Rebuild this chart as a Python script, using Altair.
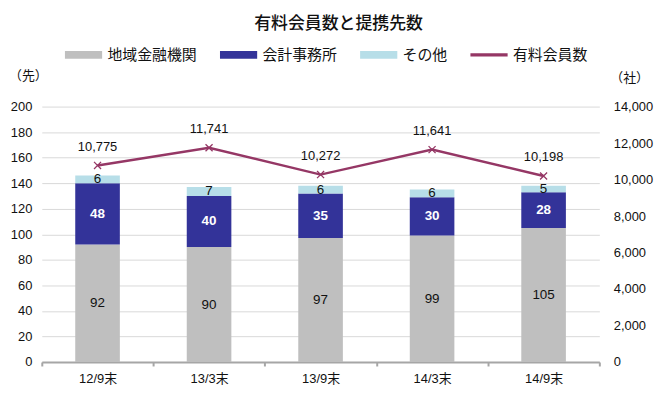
import altair as alt
import pandas as pd

categories = ["12/9末", "13/3末", "13/9末", "14/3末", "14/9末"]
banks = [92, 90, 97, 99, 105]
accountants = [48, 40, 35, 30, 28]
others = [6, 7, 6, 6, 5]
members = [10775, 11741, 10272, 11641, 10198]

series_names = ["地域金融機関", "会計事務所", "その他", "有料会員数"]
series_colors = ["#BFBFBF", "#333399", "#B7DEE8", "#953765"]
text_colors = ["#111111", "#FFFFFF", "#111111"]

rows = []
for i, c in enumerate(categories):
    for k, vals in enumerate([banks, accountants, others]):
        rows.append({"cat": c, "series": series_names[k], "value": vals[i],
                     "ord": k, "fill": series_colors[k], "tcol": text_colors[k]})
bars_df = pd.DataFrame(rows)
line_df = pd.DataFrame({"cat": categories, "members": members})
legend_df = pd.DataFrame({"series": series_names})

JP = "Liberation Sans, Noto Sans CJK JP"

x_enc = alt.X("cat:N", sort=categories, title=None,
              scale=alt.Scale(paddingInner=0, paddingOuter=0),
              axis=alt.Axis(labelAngle=0, labelFont=JP, labelFontSize=13, labelColor="#111",
                            labelPadding=7, domainColor="#A6A6A6", domainWidth=2,
                            tickBand="extent", ticks=True, tickColor="#A6A6A6", tickSize=4,
                            tickWidth=2, grid=False))

left_axis = alt.Axis(values=list(range(0, 201, 20)), domain=False, ticks=False,
                     labelOverlap=False, tickCount=11,
                     labelPadding=10, labelFont=JP, labelFontSize=13, labelColor="#111",
                     gridColor="#D9D9D9", titleAngle=0, titleAlign="center",
                     titleBaseline="middle", titleX=-14, titleY=-31,
                     titleFont=JP, titleFontSize=13, titleFontWeight="normal",
                     titleColor="#111")
left_scale = alt.Scale(domain=[0, 200], nice=False)

stacked = alt.Chart(bars_df).transform_stack(
    stack="value", as_=["v0", "v1"], groupby=["cat"], sort=[alt.SortField("ord")]
).transform_calculate(mid="(datum.v0 + datum.v1) / 2")

bars = stacked.mark_bar(width=alt.RelativeBandSize(0.4)).encode(
    x=x_enc, y=alt.Y("v1:Q", title="（先）", scale=left_scale, axis=left_axis), y2="v0:Q",
    color=alt.Color("fill:N", scale=None),
)

bar_text = stacked.transform_filter("datum.ord != 1").mark_text(
    font=JP, fontSize=13.5, baseline="middle").encode(
    x=alt.X("cat:N", sort=categories),
    y=alt.Y("mid:Q", title="（先）", scale=left_scale, axis=left_axis),
    text="value:Q", color=alt.Color("tcol:N", scale=None))

bar_text_b = stacked.transform_filter("datum.ord == 1").mark_text(
    font=JP, fontSize=13.5, fontWeight="bold", baseline="middle").encode(
    x=alt.X("cat:N", sort=categories),
    y=alt.Y("mid:Q", title="（先）", scale=left_scale, axis=left_axis),
    text="value:Q", color=alt.Color("tcol:N", scale=None))

legend = alt.Legend(title=None, orient="none", legendX=23, legendY=-71, direction="horizontal",
                    symbolOpacity=1, symbolSize=1400, symbolStrokeWidth=0,
                    labelFont="Noto Sans CJK JP", labelFontSize=15, labelColor="#111",
                    labelOffset=5, columnPadding=22)
legend_layer = alt.Chart(legend_df).mark_point(opacity=0, filled=True).encode(
    color=alt.Color("series:N", sort=series_names,
                    scale=alt.Scale(domain=series_names, range=series_colors), legend=legend),
    shape=alt.Shape("series:N", sort=series_names,
                    scale=alt.Scale(domain=series_names,
                                    range=["M-1,-0.21H1V0.21H-1Z", "M-1,-0.21H1V0.21H-1Z",
                                           "M-1,-0.21H1V0.21H-1Z", "M-1,-0.09H1V0.09H-1Z"]),
                    legend=legend),
)

left = alt.layer(bars, bar_text, bar_text_b, legend_layer)

y_right = alt.Y("members:Q", title="（社）",
                scale=alt.Scale(domain=[0, 14000], nice=False),
                axis=alt.Axis(orient="right", values=list(range(0, 14001, 2000)),
                              labelExpr="format(datum.value, ',')", labelOverlap=False,
                              domain=False, ticks=False, grid=False, labelPadding=14,
                              labelFont=JP, labelFontSize=13, labelColor="#111",
                              titleAngle=0, titleAlign="center", titleBaseline="middle",
                              titleX=30, titleY=-29, titleFont=JP, titleFontSize=13,
                              titleFontWeight="normal", titleColor="#111"))

base_line = alt.Chart(line_df).encode(x=alt.X("cat:N", sort=categories), y=y_right)
line = base_line.mark_line(color="#953765", strokeWidth=2.5)
pts = base_line.mark_point(shape="M-1,-1L1,1M-1,1L1,-1", filled=False, size=50,
                           color="#953765", strokeWidth=1.3, opacity=1)
line_text = base_line.mark_text(font=JP, fontSize=13, dy=-19, color="#111").encode(
    text=alt.Text("members:Q", format=","))

right = alt.layer(line, pts, line_text)

chart = alt.layer(left, right).resolve_scale(y="independent").properties(
    width=561, height=257,
    padding={"left": 34, "top": 98, "right": 56, "bottom": 30},
    autosize=alt.AutoSizeParams(type="none"),
    title=alt.TitleParams("有料会員数と提携先数", font="Noto Sans CJK JP", fontSize=17,
                          fontWeight=500, color="#111", anchor="middle", frame="bounds",
                          offset=3, dx=8),
).configure_view(stroke=None)

chart.save("out.html", embed_options={"renderer": "svg", "actions": False})
